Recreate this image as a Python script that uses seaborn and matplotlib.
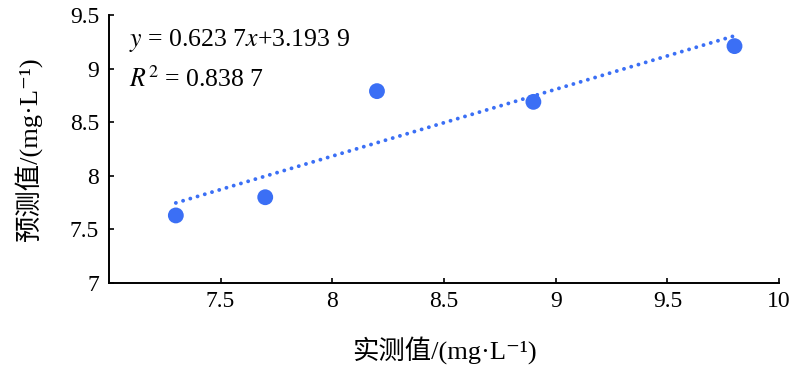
import matplotlib
matplotlib.use('Agg')
import matplotlib.pyplot as plt
import seaborn as sns
import numpy as np
import pandas as pd

# 实测值 / 预测值 (mg/L)
measured = [7.3, 7.7, 8.2, 8.9, 9.8]
predicted = [7.63, 7.80, 8.79, 8.69, 9.21]
slope = 0.6237
intercept = 3.1939
r2 = 0.8387

x_ticks = [7.5, 8, 8.5, 9, 9.5, 10]
y_ticks = [7, 7.5, 8, 8.5, 9, 9.5]


def main():
    sns.set_style('ticks')
    plt.rcParams['font.family'] = ['Liberation Serif', 'Noto Sans CJK SC', 'DejaVu Sans']
    plt.rcParams['mathtext.fontset'] = 'stix'
    plt.rcParams['text.color'] = 'black'
    plt.rcParams['axes.labelcolor'] = 'black'

    df = pd.DataFrame({'measured': measured, 'predicted': predicted})
    xs = np.array([min(measured), max(measured)])
    fit = pd.DataFrame({'x': xs, 'y': slope * xs + intercept})

    fig = plt.figure(figsize=(8, 3.67), dpi=100)
    ax = fig.add_axes([0.136, 0.229, 0.838, 0.73])
    blue = '#3b6ff5'

    sns.lineplot(x='x', y='y', data=fit, ax=ax, color=blue, linewidth=2.8,
                 dashes=False)
    ax.lines[-1].set_dashes((0.01, 1.93))
    ax.lines[-1].set_dash_capstyle('round')
    sns.scatterplot(x='measured', y='predicted', data=df, ax=ax, color=blue,
                    s=130, edgecolor='none', zorder=3)

    ax.set_xlim(7, 10)
    ax.set_ylim(7, 9.5)
    ax.set_xticks(x_ticks)
    ax.set_yticks(y_ticks)
    ax.set_xticklabels(['%g' % t for t in x_ticks])
    ax.set_yticklabels(['%g' % t for t in y_ticks])
    ax.tick_params(direction='in', length=3.5, width=1.2, labelsize=17,
                   colors='black', pad=7)
    ax.tick_params(axis='x', pad=6)
    for side in ['top', 'right']:
        ax.spines[side].set_visible(False)
    for side in ['left', 'bottom']:
        ax.spines[side].set_linewidth(1.4)
        ax.spines[side].set_color('black')

    ax.set_xlabel('实测值/(mg·L⁻¹)', fontsize=19, labelpad=17)
    ax.set_ylabel('预测值/(mg·L⁻¹)', fontsize=19, labelpad=20)

    ax.text(0.03, 0.955, '$y$ = 0.623 7$x$+3.193 9', transform=ax.transAxes,
            fontsize=18.5, va='top')
    ax.text(0.03, 0.81, '$R^2$ = 0.838 7', transform=ax.transAxes,
            fontsize=18.5, va='top')

    fig.savefig('out.png', dpi=100)
    plt.close(fig)


if __name__ == '__main__':
    main()
